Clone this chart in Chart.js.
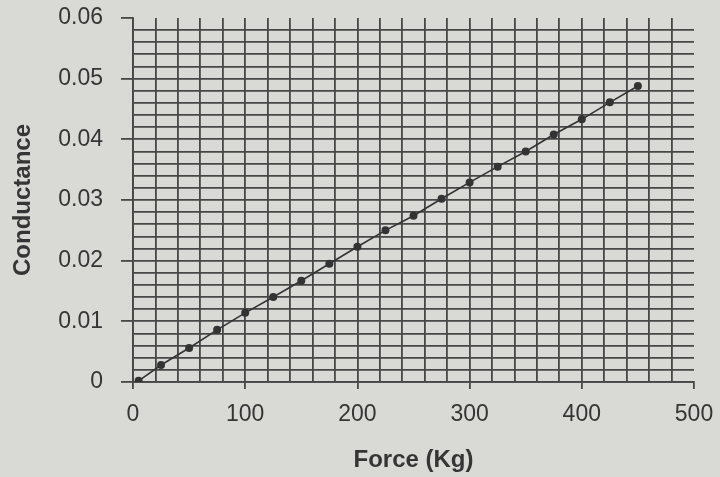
<!DOCTYPE html>
<html>
<head>
<meta charset="utf-8">
<script src="https://cdn.jsdelivr.net/npm/chart.js@4.4.1/dist/chart.umd.min.js"></script>
<style>
  html, body { margin: 0; padding: 0; background: #d9d9d6; }
  #wrap { width: 720px; height: 477px; }
</style>
</head>
<body>
<div id="wrap"><canvas id="forceChart"></canvas></div>
<script>
// values
const force = [5, 25, 50, 75, 100, 125, 150, 175, 200, 225, 250, 275, 300, 325, 350, 375, 400, 425, 450];
const conductance = [0.0002, 0.0028, 0.0056, 0.0086, 0.0114, 0.0140, 0.0167, 0.0195, 0.0223, 0.0250,
  0.0274, 0.0302, 0.0329, 0.0355, 0.0380, 0.0408, 0.0433, 0.0461, 0.0488];
const xTicks = [0, 100, 200, 300, 400, 500];
const yTicks = [0, 0.01, 0.02, 0.03, 0.04, 0.05, 0.06];

const ink = '#353535';
const gridInk = '#474747';
const font = 'Liberation Sans, Arial, sans-serif';

function isMajorX(v) { return xTicks.includes(Math.round(v)); }
function isMajorY(v) { return yTicks.some(t => Math.abs(t - v) < 1e-6); }

let ctx = document.getElementById('forceChart');
let forceChart = new Chart(ctx, {
  type: 'scatter',
  data: {
    datasets: [{
      label: 'Conductance',
      data: force.map((f, i) => ({ x: f, y: conductance[i] })),
      showLine: true,
      borderColor: '#333',
      borderWidth: 1.6,
      backgroundColor: '#333',
      pointRadius: 4,
      pointBorderWidth: 0
    }]
  },
  options: {
    responsive: true,
    maintainAspectRatio: false,
    animation: false,
    layout: { padding: { left: 0, right: 26, top: 18, bottom: 0 } },
    plugins: { legend: { display: false }, tooltip: { enabled: false } },
    scales: {
      x: {
        type: 'linear',
        min: 0,
        max: 500,
        afterFit: function (scale) {
          scale.height = 95;
          scale.paddingLeft = 0;
          scale.paddingRight = 0;
        },
        border: { display: true, color: gridInk, width: 1.8 },
        grid: {
          color: c => (Math.round(c.tick.value) === 500 ? 'transparent' : gridInk),
          lineWidth: 1.8,
          tickLength: 7,
          tickColor: c => (isMajorX(c.tick.value) ? gridInk : 'transparent')
        },
        ticks: {
          stepSize: 20,
          maxTicksLimit: 100,
          autoSkip: false,
          maxRotation: 0,
          padding: 12,
          color: ink,
          font: { family: font, size: 23 },
          callback: v => (isMajorX(v) ? String(Math.round(v)) : '')
        },
        title: {
          display: true,
          text: 'Force (Kg)',
          color: ink,
          font: { family: font, size: 24, weight: 'bold' },
          padding: { top: 0, bottom: 2 }
        }
      },
      y: {
        type: 'linear',
        min: 0,
        max: 0.06,
        afterFit: function (scale) {
          scale.width = 133;
          scale.paddingTop = 0;
          scale.paddingBottom = 0;
        },
        border: { display: true, color: gridInk, width: 1.8 },
        grid: {
          color: c => (Math.abs(c.tick.value - 0.06) < 1e-6 ? 'transparent' : gridInk),
          lineWidth: 1.8,
          tickLength: 12,
          tickColor: c => (isMajorY(c.tick.value) ? gridInk : 'transparent')
        },
        ticks: {
          stepSize: 0.002,
          maxTicksLimit: 100,
          autoSkip: false,
          padding: 18,
          color: ink,
          font: { family: font, size: 23 },
          callback: v => (isMajorY(v) ? (Math.abs(v) < 1e-9 ? '0' : v.toFixed(2)) : '')
        },
        title: {
          display: true,
          text: 'Conductance',
          color: ink,
          font: { family: font, size: 24, weight: 'bold' },
          padding: { top: 9, bottom: 0 }
        }
      }
    }
  }
});
</script>
</body>
</html>
